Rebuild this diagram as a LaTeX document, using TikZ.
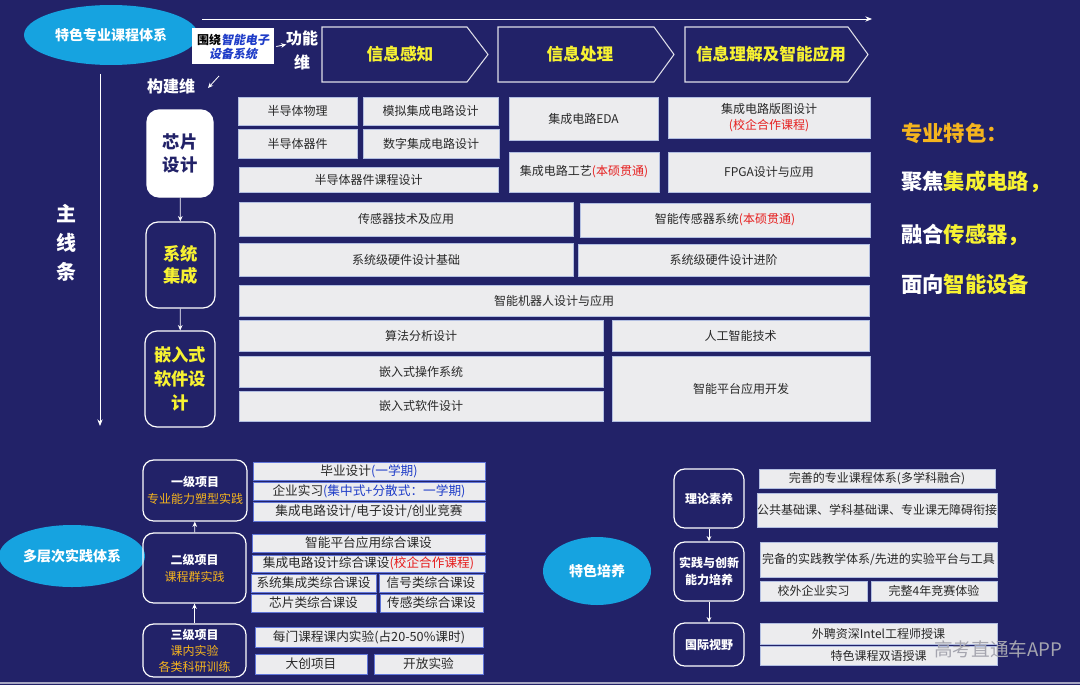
\documentclass[tikz,border=0pt]{standalone}
\usepackage{fontspec}
\setmainfont{Noto Sans CJK SC}
\newfontfamily\slcjk[FakeSlant=0.2]{Noto Sans CJK SC}
\usetikzlibrary{arrows.meta,shapes.geometric}
\definecolor{bg}{RGB}{34,34,104}
\definecolor{cyanE}{RGB}{22,163,224}
\definecolor{boxF}{RGB}{236,236,238}
\definecolor{boxL}{RGB}{178,190,225}
\definecolor{yel}{RGB}{247,242,50}
\definecolor{org}{RGB}{245,180,30}
\definecolor{blu}{RGB}{30,60,200}
\definecolor{redT}{RGB}{230,30,30}
\definecolor{txt}{RGB}{40,40,40}
\definecolor{wmk}{RGB}{165,165,175}
\tikzset{
  cb/.style={draw=boxL,line width=0.6pt,fill=boxF,inner sep=0pt,text=txt,font=\fontsize{9}{11}\selectfont,align=center},
  bb/.style={cb,draw=blu!70,font=\fontsize{9.5}{11}\selectfont},
  rb/.style={cb,font=\fontsize{9}{11}\selectfont},
  chev/.style={draw=white!85!bg,line width=0.8pt},
  chevt/.style={text=yel,font=\fontsize{12.5}{14}\selectfont\bfseries},
  lbox/.style={draw=white,line width=0.9pt,rounded corners=9pt,inner sep=0pt,align=center},
  wl/.style={draw=white,line width=0.7pt,-{Stealth[length=5pt,width=4pt]}},
  sl/.style={draw=white,line width=0.6pt,-{Stealth[length=4pt,width=3.5pt]}},
  ell/.style={ellipse,fill=cyanE,text=white,inner sep=0pt,font=\fontsize{10.5}{12}\selectfont\bfseries},
  wt/.style={text=white,font=\fontsize{12}{14}\selectfont\bfseries,inner sep=0pt},
  big/.style={anchor=west,inner sep=0pt,font=\fontsize{16}{18}\selectfont\bfseries,text=white}
}
\newcommand\bx[7][]{\node[cb,#1,minimum width={(#5-#3)*0.75pt},minimum height={(#6-#4)*0.75pt}] (#2) at ({(#3+#5)/2},{(#4+#6)/2}) {#7};}
\newcommand\rt[1]{\textcolor{redT}{#1}}
\newcommand\bt[1]{\textcolor{blu}{#1}}
\begin{document}
\begin{tikzpicture}[x=0.75pt,y=-0.75pt]
\fill[bg] (0,0) rectangle (1080,685);
\useasboundingbox (0,0) rectangle (1080,685);
\draw[white!60!bg,line width=1pt] (0,683) -- (1080,683);

% ---------- top part ----------
\node[ell,minimum width=130.5pt,minimum height=45pt] (top) at (111,35) {特色专业课程体系};
\coordinate (hs) at (202,19);
\coordinate (he) at (872,19);
\draw[wl] (hs) -- (he);
\coordinate (vs) at (100,74);
\coordinate (ve) at (100,426);
\draw[wl] (vs) -- (ve);
\node[wt,font=\fontsize{15}{20}\selectfont\bfseries,align=center] (zx) at (66,243) {主\\[2pt]线\\[2pt]条};

\node[fill=white,inner sep=0pt,minimum width={82*0.75pt},minimum height={36*0.75pt},align=center,font=\fontsize{9}{10.5}\selectfont\bfseries] (wr) at (233,46.5)
  {\textcolor{black}{围绕}{\slcjk\bfseries\bt{智能电子}}\\{\slcjk\bfseries\bt{设备系统}}};
\node[wt] (gn1) at (302,38) {功能};
\node[wt] (gn2) at (302,62) {维};
\draw[sl] (wr.east) ++(2,0) coordinate (a1) -- ++(10,-2) coordinate (a2);
\node[wt] (gj) at (171,86) {构建维};
\coordinate (b1) at (219,76);
\coordinate (b2) at (208,88);
\draw[sl] (b1) -- (b2);

% chevrons
\draw[chev] (322,27) -- (467,27) -- (488,54.5) -- (467,82) -- (322,82) -- cycle;
\node[chevt] (c1) at (400,54.5) {信息感知};
\draw[chev] (498,27) -- (654,27) -- (674,54.5) -- (654,82) -- (498,82) -- cycle;
\node[chevt] (c2) at (580,54.5) {信息处理};
\draw[chev] (685,27) -- (848,27) -- (868,54.5) -- (848,82) -- (685,82) -- cycle;
\node[chevt] (c3) at (771,54.5) {信息理解及智能应用};

% left column
\node[lbox,fill=white,minimum width={66*0.75pt},minimum height={87*0.75pt},text=bg,font=\fontsize{13}{17}\selectfont\bfseries] (xp) at (180,153.5) {芯片\\设计};
\node[lbox,minimum width={69*0.75pt},minimum height={86*0.75pt},text=yel,font=\fontsize{13}{17}\selectfont\bfseries] (xt) at (180.5,265) {系统\\集成};
\node[lbox,minimum width={70*0.75pt},minimum height={96*0.75pt},text=yel,font=\fontsize{13}{18}\selectfont\bfseries] (qr) at (180,379) {嵌入式\\软件设\\计};
\draw[sl] (xp) -- (xt);
\draw[sl] (xt) -- (qr);

% course grid
\bx{k1}{238}{97}{357}{125}{半导体物理}
\bx{k2}{363}{97}{498}{125}{模拟集成电路设计}
\bx{k3}{238}{129}{357}{158}{半导体器件}
\bx{k4}{363}{129}{499}{158}{数字集成电路设计}
\bx{k5}{239}{167}{498}{192}{半导体器件课程设计}
\bx{k6}{509}{97}{658}{140}{集成电路EDA}
\bx[font=\fontsize{9}{12}\selectfont]{k7}{668}{97}{870}{138}{集成电路版图设计\\\rt{(校企合作课程)}}
\bx{k8}{509}{152}{659}{192}{集成电路工艺\rt{(本硕贯通)}}
\bx{k9}{668}{152}{870}{192}{FPGA设计与应用}
\bx{k10}{239}{202}{573}{236}{传感器技术及应用}
\bx{k11}{580}{203}{870}{237}{智能传感器系统\rt{(本硕贯通)}}
\bx{k12}{239}{243}{573}{276}{系统级硬件设计基础}
\bx{k13}{578}{244}{869}{276}{系统级硬件设计进阶}
\bx{k14}{239}{285}{869}{316}{智能机器人设计与应用}
\bx{k15}{239}{320}{603}{351}{算法分析设计}
\bx{k16}{612}{320}{869}{351}{人工智能技术}
\bx{k17}{239}{356}{603}{387}{嵌入式操作系统}
\bx{k18}{239}{391}{603}{421}{嵌入式软件设计}
\bx{k19}{612}{356}{870}{421}{智能平台应用开发}

% right slogan
\node[big,text=org] (s1) at (901,133) {专业特色：};
\node[big] (s2) at (901,182) {聚焦\textcolor{yel}{集成电路，}};
\node[big] (s3) at (901,235) {融合\textcolor{yel}{传感器，}};
\node[big] (s4) at (901,284) {面向\textcolor{yel}{智能设备}};

% ---------- bottom left ----------
\node[ell,minimum width={146*0.75pt},minimum height={62*0.75pt}] (dc) at (72,556) {多层次实践体系};
\node[lbox,rounded corners=8pt,minimum width={104*0.75pt},minimum height={61*0.75pt},font=\fontsize{9}{13}\selectfont] (p1) at (195,490.5) {\textcolor{white}{\bfseries 一级项目}\\\textcolor{org}{专业能力塑型实践}};
\node[lbox,rounded corners=8pt,minimum width={103*0.75pt},minimum height={70*0.75pt},font=\fontsize{9}{13}\selectfont] (p2) at (194.5,568) {\textcolor{white}{\bfseries 二级项目}\\\textcolor{org}{课程群实践}};
\node[lbox,rounded corners=8pt,minimum width={103*0.75pt},minimum height={53*0.75pt},font=\fontsize{9}{12}\selectfont] (p3) at (194.5,650.5) {\textcolor{white}{\bfseries 三级项目}\\\textcolor{org}{课内实验}\\\textcolor{org}{各类科研训练}};
\draw[sl,line width=0.5pt] (p3) -- (p2);
\draw[sl,line width=0.5pt] (p2) -- (p1);

\bx[bb]{q1}{253}{462}{485}{480}{毕业设计\bt{(一学期)}}
\bx[bb]{q2}{253}{482}{485}{500}{企业实习\bt{(集中式+分散式：一学期)}}
\bx[bb]{q3}{253}{502}{485}{521}{集成电路设计/电子设计/创业竞赛}
\bx[bb]{q4}{252}{534}{485}{552}{智能平台应用综合课设}
\bx[bb]{q5}{252}{555}{485}{572}{集成电路设计综合课设\rt{(校企合作课程)}}
\bx[bb]{q6}{251}{574}{376}{592}{系统集成类综合课设}
\bx[bb]{q7}{379}{574}{483}{592}{信号类综合课设}
\bx[bb]{q8}{251}{594}{376}{612}{芯片类综合课设}
\bx[bb]{q9}{380}{594}{483}{612}{传感类综合课设}
\bx[bb]{q10}{255}{627}{483}{647}{每门课程课内实验(占20-50\%课时)}
\bx[bb]{q11}{255}{654}{367}{674}{大创项目}
\bx[bb]{q12}{374}{654}{483}{674}{开放实验}

% ---------- bottom right ----------
\node[ell,minimum width={108*0.75pt},minimum height={68*0.75pt}] (ts) at (597,571) {特色培养};
\node[lbox,rounded corners=8pt,minimum width={70*0.75pt},minimum height={59*0.75pt},text=white,font=\fontsize{9}{12}\selectfont\bfseries] (r1) at (709,498.5) {理论素养};
\node[lbox,rounded corners=8pt,minimum width={70*0.75pt},minimum height={59*0.75pt},text=white,font=\fontsize{9}{13}\selectfont\bfseries] (r2) at (709,571.5) {实践与创新\\能力培养};
\node[lbox,rounded corners=8pt,minimum width={70*0.75pt},minimum height={43*0.75pt},text=white,font=\fontsize{9}{12}\selectfont\bfseries] (r3) at (709,644.5) {国际视野};
\draw[sl] (r1) -- (r2);
\draw[sl] (r2) -- (r3);

\bx[rb]{t1}{759}{469}{995}{488}{完善的专业课程体系(多学科融合)}
\bx[rb]{t2}{759}{493}{995}{527}{公共基础课、学科基础课、专业课无障碍衔接}
\bx[rb]{t3}{760}{542}{997}{577}{完备的实践教学体系/先进的实验平台与工具}
\bx[rb]{t4}{760}{581}{867}{601}{校外企业实习}
\bx[rb]{t5}{871}{581}{997}{601}{完整4年竞赛体验}
\bx[rb]{t6}{760}{623}{997}{644}{外聘资深Intel工程师授课}
\bx[rb]{t7}{760}{646}{997}{665}{特色课程双语授课}

% watermark
\node[anchor=west,text=wmk,font=\fontsize{14}{16}\selectfont,inner sep=0pt] (wm) at (934,649) {高考直通车APP};
\end{tikzpicture}
\end{document}
